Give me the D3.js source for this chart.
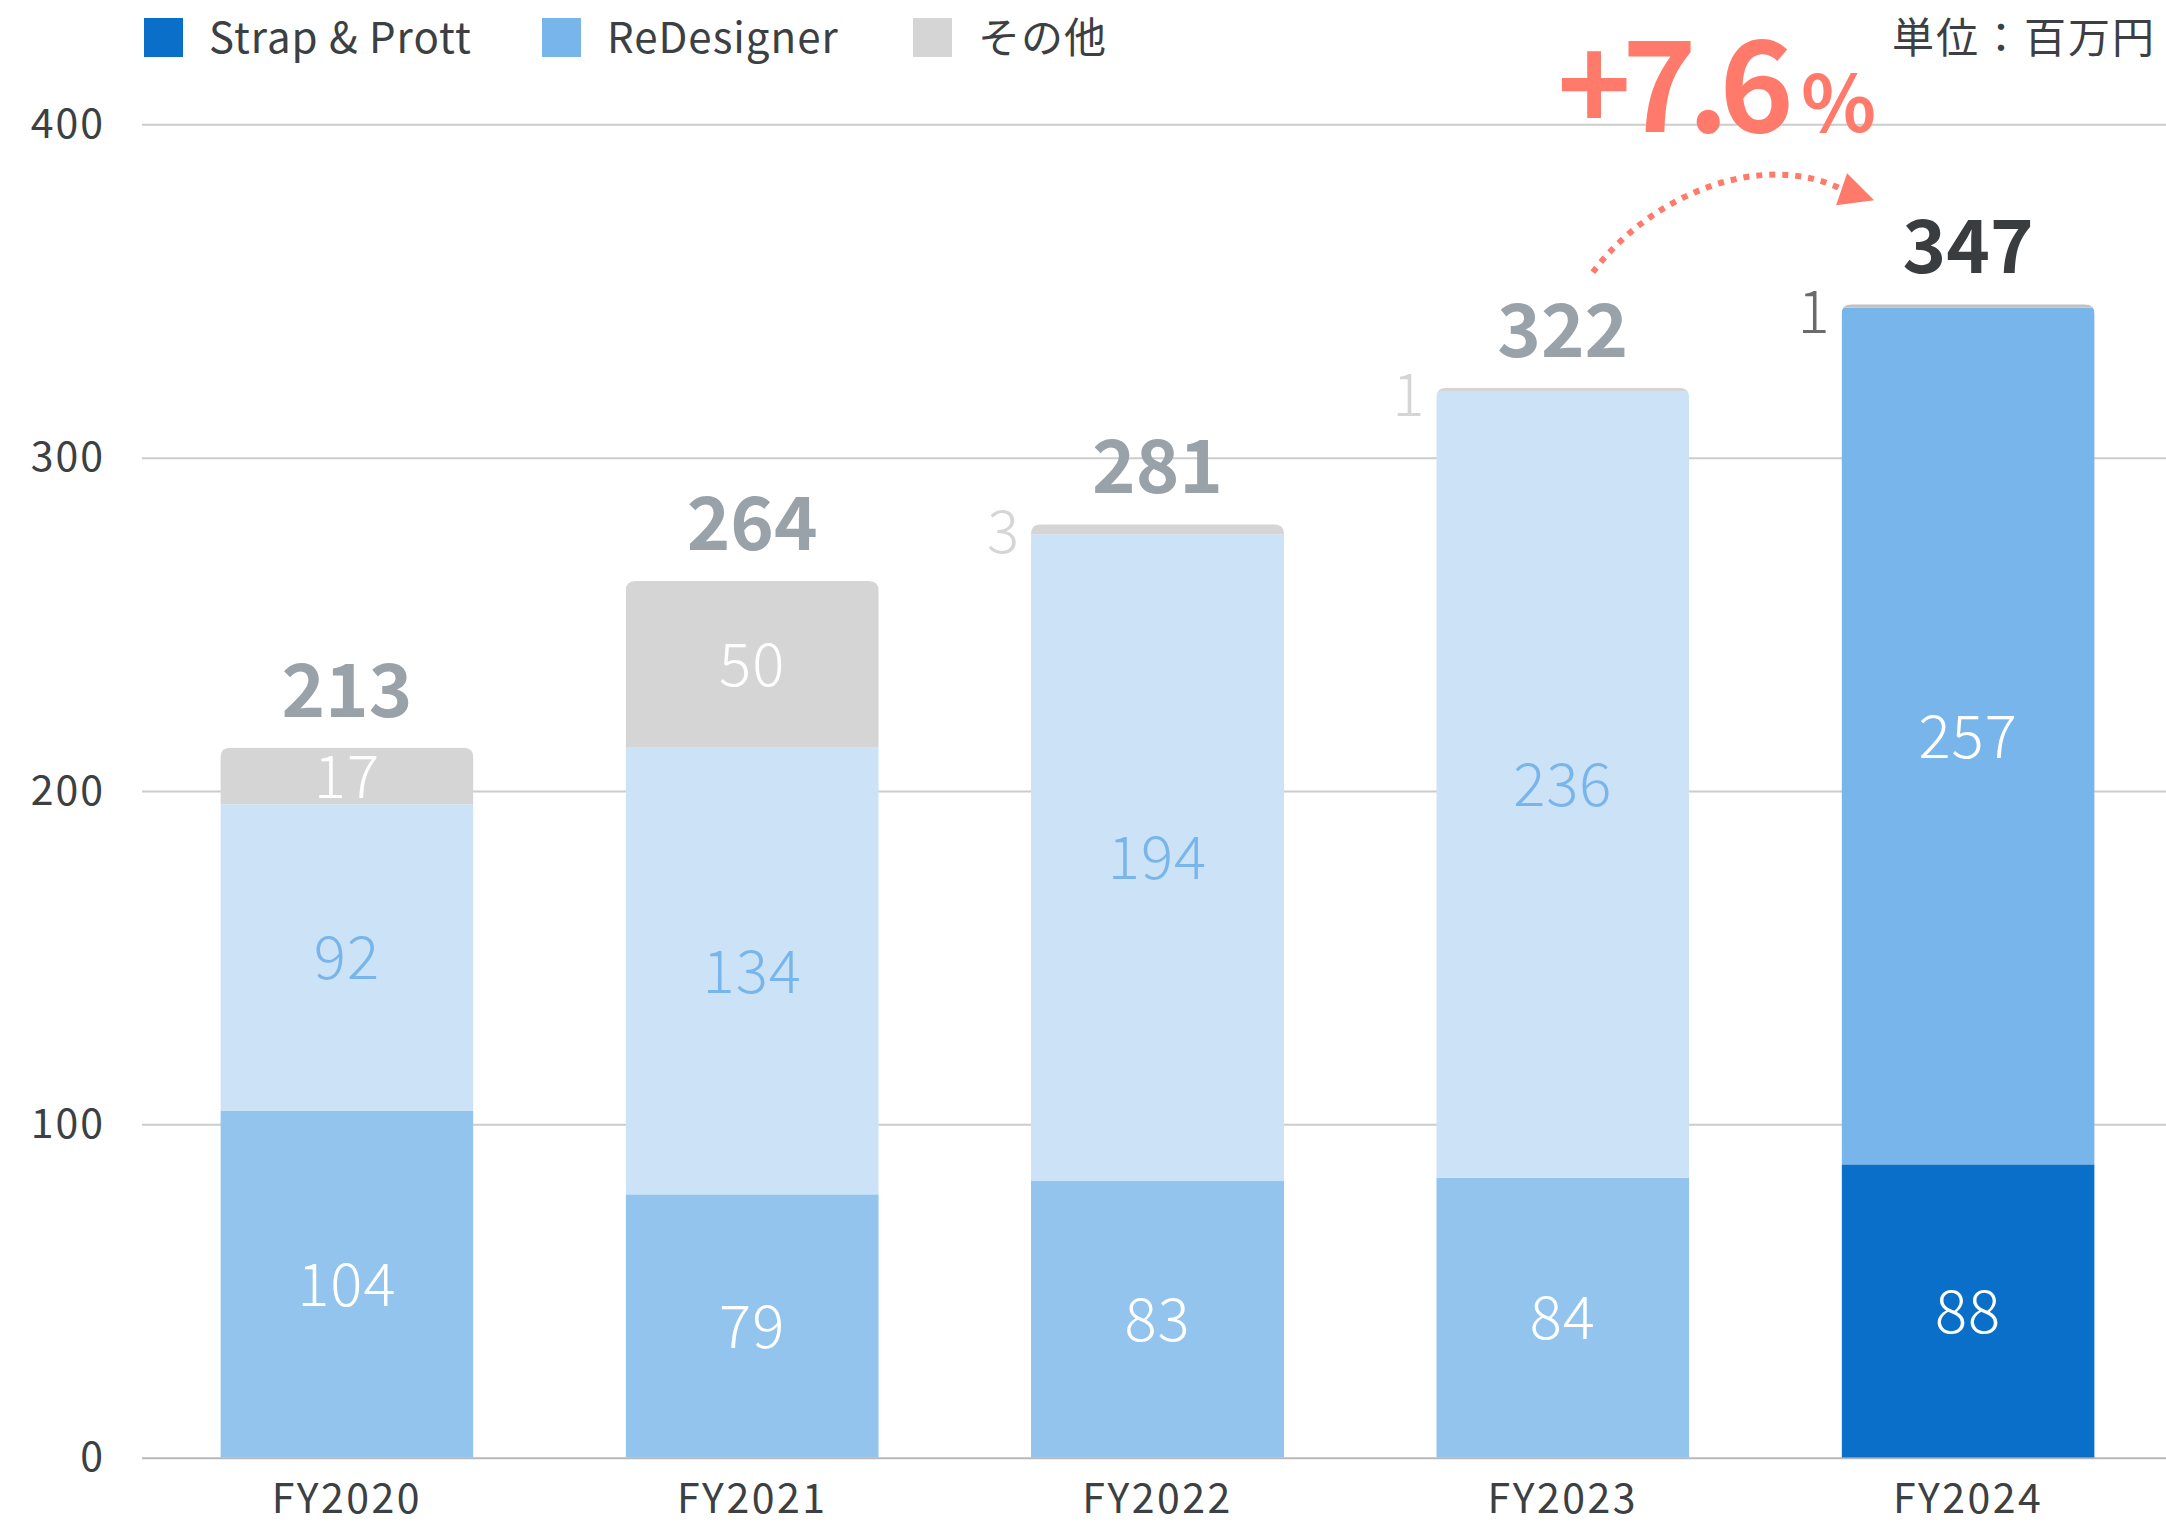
<!DOCTYPE html>
<html>
<head>
<meta charset="utf-8">
<script src="https://cdn.jsdelivr.net/npm/d3@7"></script>
<style>
  body { margin: 0; background: #fff; }
  text { font-family: "Noto Sans CJK JP", "Noto Sans", sans-serif; }
</style>
</head>
<body>
<svg id="chart"></svg>
<script>
const years = ["FY2020", "FY2021", "FY2022", "FY2023", "FY2024"];
const strapPrott = [104, 79, 83, 84, 88];
const reDesigner = [92, 134, 194, 236, 257];
const others = [17, 50, 3, 1, 1];
const totals = [213, 264, 281, 322, 347];
const yTicks = [0, 100, 200, 300, 400];
const seriesNames = ["Strap & Prott", "ReDesigner", "その他"];

const width = 2166, height = 1524;
const margin = { top: 124.3, right: 0, bottom: 66.3, left: 142 };

// bright colours for the latest year, faded ones for the past
const colors = ["#0a6fc9", "#78b5ea", "#c2c2c2"];
const faded = ["#92c4ee", "#cbe2f7", "#d5d5d5"];

const svg = d3.select("#chart")
  .attr("width", width)
  .attr("height", height);

const x = d3.scaleBand()
  .domain(years)
  .range([145, 2170])
  .paddingInner(0.3757)
  .paddingOuter(0.186);

const y = d3.scaleLinear()
  .domain([0, 400])
  .range([height - margin.bottom, margin.top]);

// gridlines + y labels
const yAxis = svg.append("g")
  .attr("transform", `translate(${margin.left},0)`)
  .call(d3.axisLeft(y).tickValues(yTicks).tickSize(-(width - margin.left)).tickPadding(37));
yAxis.select(".domain").remove();
yAxis.selectAll(".tick line")
  .attr("stroke", d => d === 0 ? "#b8b8b8" : "#cccccc")
  .attr("stroke-width", 2);
yAxis.selectAll(".tick text")
  .attr("fill", "#3c4043")
  .style("font-size", "41px")
  .style("letter-spacing", "2px");

// x labels
const xAxis = svg.append("g")
  .attr("transform", `translate(0,${height - margin.bottom})`)
  .call(d3.axisBottom(x).tickSize(0).tickPadding(0));
xAxis.select(".domain").remove();
xAxis.selectAll(".tick text")
  .attr("dy", null)
  .attr("y", 55)
  .attr("fill", "#3c4043")
  .style("font-size", "41px")
  .style("letter-spacing", "2.5px");

// stacked rows
const rows = years.map((yr, i) => ({
  year: yr, i: i, latest: i === years.length - 1,
  vals: [strapPrott[i], reDesigner[i], others[i]], total: totals[i]
}));

const defs = svg.append("defs");
const r = 10;

rows.forEach(d => {
  const x0 = x(d.year), bw = x.bandwidth();
  const top = y(d3.sum(d.vals)), base = y(0);
  defs.append("clipPath").attr("id", "clip" + d.i)
    .append("path")
    .attr("d", `M${x0},${base}V${top + r}Q${x0},${top} ${x0 + r},${top}H${x0 + bw - r}Q${x0 + bw},${top} ${x0 + bw},${top + r}V${base}Z`);

  const g = svg.append("g").attr("clip-path", `url(#clip${d.i})`);
  let acc = 0;
  d.vals.forEach((v, k) => {
    g.append("rect")
      .attr("x", x0)
      .attr("width", bw)
      .attr("y", y(acc + v))
      .attr("height", y(acc) - y(acc + v))
      .attr("fill", d.latest ? colors[k] : faded[k]);
    acc += v;
  });
});

// segment labels
rows.forEach(d => {
  const cx = x(d.year) + x.bandwidth() / 2;
  let acc = 0;
  d.vals.forEach((v, k) => {
    const mid = (y(acc) + y(acc + v)) / 2;
    if (k === 2 && v < 10) {
      svg.append("text")
        .attr("x", x(d.year) - 12)
        .attr("y", y(acc + v) + 7)
        .attr("dy", "0.36em")
        .attr("text-anchor", "end")
        .attr("fill", d.latest ? "#6b6b6b" : "#d5d5d5")
        .style("font-size", "60px")
        .style("font-weight", 300)
        .text(v);
    } else {
      svg.append("text")
        .attr("x", cx)
        .attr("y", mid)
        .attr("dy", "0.36em")
        .attr("text-anchor", "middle")
        .attr("fill", (k === 1 && !d.latest) ? "#78b5ea" : "#ffffff")
        .style("font-size", "60px")
        .style("font-weight", 300)
        .style("letter-spacing", "1px")
        .text(v);
    }
    acc += v;
  });

  svg.append("text")
    .attr("x", cx)
    .attr("y", y(d3.sum(d.vals)) - 31)
    .attr("text-anchor", "middle")
    .attr("fill", d.latest ? "#3a3d40" : "#99a1a9")
    .style("font-size", "74px")
    .style("font-weight", 700)
    .text(d.total);
});

// legend
const legendX = [144, 542, 913];
seriesNames.forEach((name, k) => {
  svg.append("rect")
    .attr("x", legendX[k]).attr("y", 18)
    .attr("width", 39).attr("height", 39)
    .attr("fill", k === 2 ? "#d5d5d5" : colors[k]);
  svg.append("text")
    .attr("x", legendX[k] + 65).attr("y", 53)
    .attr("fill", "#3c4043")
    .style("font-size", "42px")
    .style("letter-spacing", "1px")
    .text(name);
});

svg.append("text")
  .attr("x", 2156).attr("y", 53)
  .attr("text-anchor", "end")
  .attr("fill", "#3c4043")
  .style("font-size", "42px")
  .style("letter-spacing", "2px")
  .text("単位：百万円");

// growth annotation
const cPrev = x(years[3]) + x.bandwidth() / 2;
const cLast = x(years[4]) + x.bandwidth() / 2;
const yPrev = y(totals[3]);
const sx = cPrev + 30, sy = yPrev - 112;
const ex = cLast - 128, ey = yPrev - 196;
svg.append("path")
  .attr("d", `M${sx},${sy}C${sx + 57},${sy - 77} ${sx + 167},${sy - 122} ${ex},${ey}`)
  .attr("fill", "none")
  .attr("stroke", "#ff7a6b")
  .attr("stroke-width", 6)
  .attr("stroke-dasharray", "6 7");
svg.append("path")
  .attr("d", `M${ex + 7},${ey - 15}L${ex + 34},${ey + 12}L${ex - 4},${ey + 17}Z`)
  .attr("fill", "#ff7a6b");

const growth = svg.append("text")
  .attr("x", ex + 36).attr("y", 132)
  .attr("text-anchor", "end")
  .attr("fill", "#ff7a6b")
  .style("font-weight", 700);
growth.append("tspan").style("font-size", "126px").style("letter-spacing", "-9px").text("+7.6");
growth.append("tspan").style("font-size", "78px").attr("dx", 16).style("letter-spacing", "0px").text("%");
</script>
</body>
</html>
